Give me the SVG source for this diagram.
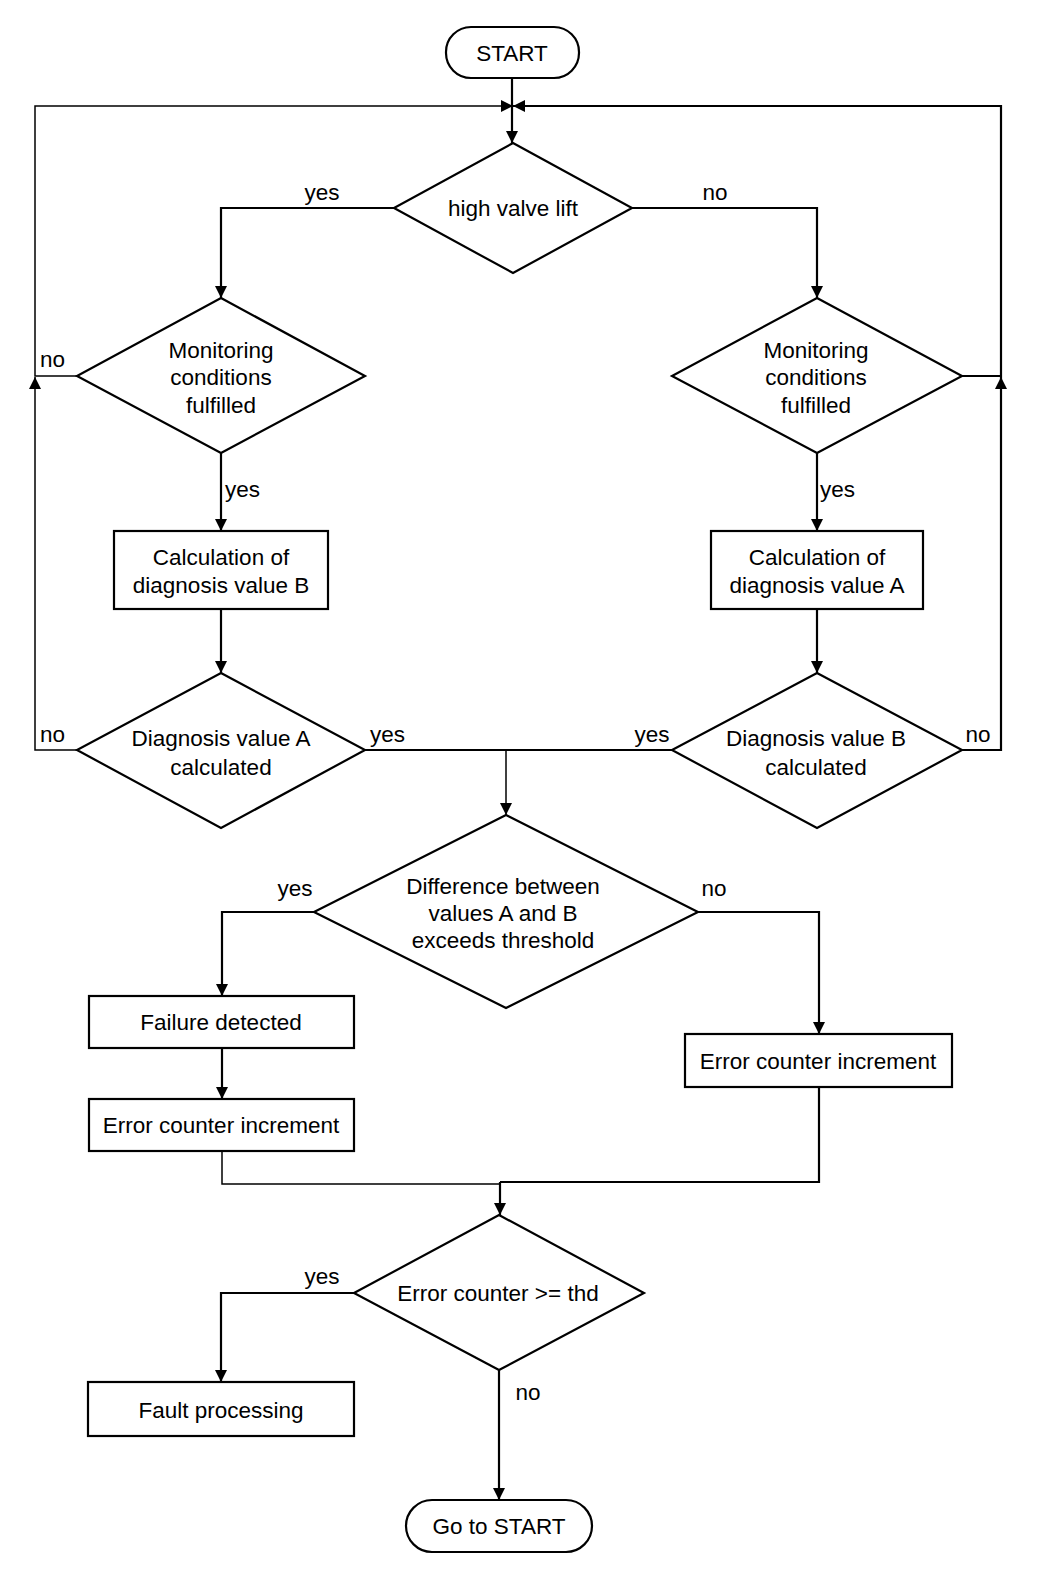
<svg xmlns="http://www.w3.org/2000/svg" width="1056" height="1572" viewBox="0 0 1056 1572">
<defs>
<marker id="arr" viewBox="0 0 10 10" refX="10" refY="5" markerWidth="13" markerHeight="12" markerUnits="userSpaceOnUse" orient="auto">
<path d="M0,0 L10,5 L0,10 z" fill="#000"/>
</marker>
<style>
.sh{fill:#fff;stroke:#000;stroke-width:2.2}
.c{fill:none;stroke:#000;stroke-width:2.2}
.t{fill:none;stroke:#000;stroke-width:1.5}
text{font-family:"Liberation Sans",Arial,sans-serif;font-size:22.5px;fill:#000;text-anchor:middle}
.l{text-anchor:start}
</style>
</defs>
<rect width="1056" height="1572" fill="#fff"/>
<g id="connectors">
<path class="c" d="M512,78 V143" marker-end="url(#arr)"/>
<path class="t" d="M77,376 H35 V106 H513" marker-end="url(#arr)"/>
<path class="c" d="M962,376 H1001 V106 H513" marker-end="url(#arr)"/>
<path class="t" d="M77,750 H35 V377" marker-end="url(#arr)"/>
<path class="c" d="M962,750 H1001 V377" marker-end="url(#arr)"/>
<path class="c" d="M394,208 H221 V298" marker-end="url(#arr)"/>
<path class="c" d="M632,208 H817 V298" marker-end="url(#arr)"/>
<path class="c" d="M221,453 V531" marker-end="url(#arr)"/>
<path class="c" d="M817,453 V531" marker-end="url(#arr)"/>
<path class="c" d="M221,609 V673" marker-end="url(#arr)"/>
<path class="c" d="M817,609 V673" marker-end="url(#arr)"/>
<path class="c" d="M365,750 H672"/>
<path class="t" d="M506,750 V815" marker-end="url(#arr)"/>
<path class="c" d="M314,912 H222 V996" marker-end="url(#arr)"/>
<path class="c" d="M698,912 H819 V1034" marker-end="url(#arr)"/>
<path class="c" d="M222,1048 V1099" marker-end="url(#arr)"/>
<path class="t" d="M222,1151 V1184 H500"/>
<path class="c" d="M819,1087 V1182 H500"/>
<path class="c" d="M500,1182 V1215" marker-end="url(#arr)"/>
<path class="c" d="M354,1293 H221 V1382" marker-end="url(#arr)"/>
<path class="c" d="M499,1370 V1500" marker-end="url(#arr)"/>
</g>
<g id="labels">
<text x="322" y="200">yes</text>
<text x="715" y="200">no</text>
<text class="l" x="40" y="367">no</text>
<text class="l" x="225" y="497">yes</text>
<text class="l" x="820" y="497">yes</text>
<text class="l" x="40" y="742">no</text>
<text class="l" x="370" y="742">yes</text>
<text x="652" y="742">yes</text>
<text x="978" y="742">no</text>
<text x="295" y="896">yes</text>
<text x="714" y="896">no</text>
<text x="322" y="1284">yes</text>
<text x="528" y="1400">no</text>
</g>
<g id="start">
<rect class="sh" x="446" y="27" width="133" height="51" rx="25"/>
<text x="512" y="61">START</text>
</g>
<g id="high-valve-lift">
<polygon class="sh" points="513,143 632,208 513,273 394,208"/>
<text x="513" y="216">high valve lift</text>
</g>
<g id="monitoring-left">
<polygon class="sh" points="221,298 365,376 221,453 77,376"/>
<text x="221" y="358">Monitoring</text>
<text x="221" y="385">conditions</text>
<text x="221" y="413">fulfilled</text>
</g>
<g id="monitoring-right">
<polygon class="sh" points="817,298 962,376 817,453 672,376"/>
<text x="816" y="358">Monitoring</text>
<text x="816" y="385">conditions</text>
<text x="816" y="413">fulfilled</text>
</g>
<g id="calc-b">
<rect class="sh" x="114" y="531" width="214" height="78"/>
<text x="221" y="565">Calculation of</text>
<text x="221" y="593">diagnosis value B</text>
</g>
<g id="calc-a">
<rect class="sh" x="711" y="531" width="212" height="78"/>
<text x="817" y="565">Calculation of</text>
<text x="817" y="593">diagnosis value A</text>
</g>
<g id="diag-a">
<polygon class="sh" points="221,673 365,750 221,828 77,750"/>
<text x="221" y="746">Diagnosis value A</text>
<text x="221" y="775">calculated</text>
</g>
<g id="diag-b">
<polygon class="sh" points="817,673 962,750 817,828 672,750"/>
<text x="816" y="746">Diagnosis value B</text>
<text x="816" y="775">calculated</text>
</g>
<g id="difference">
<polygon class="sh" points="506,815 698,912 506,1008 314,912"/>
<text x="503" y="894">Difference between</text>
<text x="503" y="921">values A and B</text>
<text x="503" y="948">exceeds threshold</text>
</g>
<g id="failure-detected">
<rect class="sh" x="89" y="996" width="265" height="52"/>
<text x="221" y="1030">Failure detected</text>
</g>
<g id="error-inc-left">
<rect class="sh" x="89" y="1099" width="265" height="52"/>
<text x="221" y="1133">Error counter increment</text>
</g>
<g id="error-inc-right">
<rect class="sh" x="685" y="1034" width="267" height="53"/>
<text x="818" y="1069">Error counter increment</text>
</g>
<g id="error-threshold">
<polygon class="sh" points="499,1215 644,1293 499,1370 354,1293"/>
<text x="498" y="1301">Error counter &gt;= thd</text>
</g>
<g id="fault-processing">
<rect class="sh" x="88" y="1382" width="266" height="54"/>
<text x="221" y="1418">Fault processing</text>
</g>
<g id="go-to-start">
<rect class="sh" x="406" y="1500" width="186" height="52" rx="26"/>
<text x="499" y="1534">Go to START</text>
</g>
</svg>
